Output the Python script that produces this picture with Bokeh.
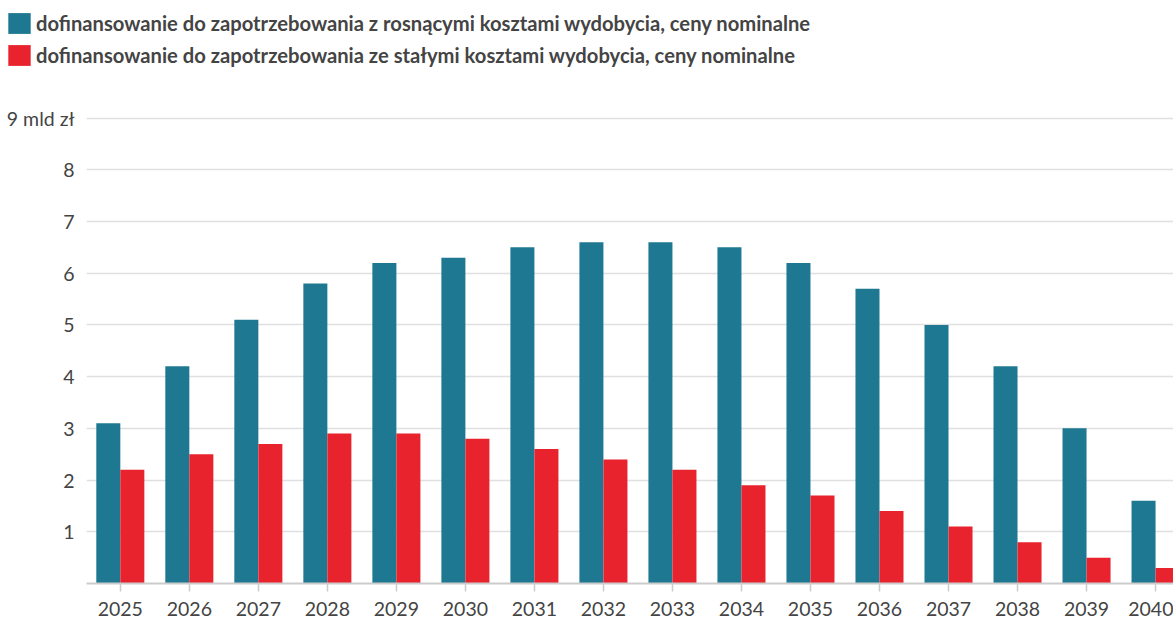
from bokeh.plotting import figure
from bokeh.models import Range1d, FixedTicker, Legend, LegendItem
from bokeh.layouts import column
from bokeh.embed import file_html
from bokeh.resources import INLINE

years = [2025, 2026, 2027, 2028, 2029, 2030, 2031, 2032, 2033, 2034, 2035, 2036, 2037, 2038, 2039, 2040]
rising = [3.1, 4.2, 5.1, 5.8, 6.2, 6.3, 6.5, 6.6, 6.6, 6.5, 6.2, 5.7, 5.0, 4.2, 3.0, 1.6]
fixed = [2.2, 2.5, 2.7, 2.9, 2.9, 2.8, 2.6, 2.4, 2.2, 1.9, 1.7, 1.4, 1.1, 0.8, 0.5, 0.3]
y_ticks = [1, 2, 3, 4, 5, 6, 7, 8, 9]
label_rising = "dofinansowanie do zapotrzebowania z rosnącymi kosztami wydobycia, ceny nominalne"
label_fixed = "dofinansowanie do zapotrzebowania ze stałymi kosztami wydobycia, ceny nominalne"

TEAL = "#1e7891"
RED = "#e8232e"
BW = 0.348

# legend strip
lg = figure(width=1173, height=100, output_backend="svg", toolbar_location=None,
            x_range=Range1d(0, 1), y_range=Range1d(0, 1),
            x_axis_location=None, y_axis_location=None,
            min_border_left=0, min_border_right=0, min_border_top=0, min_border_bottom=0)
lg.frame_align = False
lg.outline_line_color = None
lg.grid.visible = False
# legend swatches only; these sit outside the visible range of the strip
d1 = lg.vbar(x=[5], top=[5], width=0.1, fill_color=TEAL, line_color=None)
d2 = lg.vbar(x=[5], top=[5], width=0.1, fill_color=RED, line_color=None)
legend = Legend(items=[LegendItem(label=label_rising, renderers=[d1]),
                       LegendItem(label=label_fixed, renderers=[d2])],
                location=(5, 32), orientation="vertical",
                glyph_width=28, glyph_height=26, label_height=26, label_standoff=3, spacing=6,
                padding=0, margin=0, border_line_color=None, background_fill_alpha=0,
                label_text_font="Lato", label_text_font_style="bold",
                label_text_font_size="20.2px", label_text_color="#444444")
lg.add_layout(legend, "center")

# main chart
p = figure(width=1173, height=519, output_backend="svg", toolbar_location=None,
           x_range=Range1d(2024.51, 2040.26), y_range=Range1d(0, 9.05),
           min_border_left=86, min_border_right=0, min_border_top=15, min_border_bottom=36)
p.frame_align = False
p.outline_line_color = None
p.background_fill_color = "white"
p.border_fill_color = "white"

p.vbar(x=[y - BW / 2 for y in years], top=rising, width=BW, fill_color=TEAL, line_color=None)
p.vbar(x=[y + BW / 2 for y in years], top=fixed, width=BW, fill_color=RED, line_color=None)

p.xgrid.visible = False
p.ygrid.ticker = FixedTicker(ticks=y_ticks)
p.ygrid.grid_line_color = "#e0e0e0"
p.ygrid.grid_line_width = 1.5

p.yaxis.ticker = FixedTicker(ticks=y_ticks)
p.yaxis.major_label_overrides = {9: "9 mld zł"}
p.yaxis.axis_line_color = None
p.yaxis.major_tick_line_color = None
p.yaxis.minor_tick_line_color = None
p.yaxis.major_label_standoff = 6
p.yaxis.major_label_text_font = "Lato"
p.yaxis.major_label_text_font_size = "19.5px"
p.yaxis.major_label_text_color = "#444444"

p.xaxis.ticker = FixedTicker(ticks=years)
p.xaxis.major_label_overrides = {y: str(y) for y in years}
p.xaxis.axis_line_color = "#cccccc"
p.xaxis.axis_line_width = 2
p.xaxis.major_tick_line_color = "#cccccc"
p.xaxis.major_tick_line_width = 1.5
p.xaxis.major_tick_in = 0
p.xaxis.major_tick_out = 8
p.xaxis.minor_tick_line_color = None
p.xaxis.major_label_standoff = 10
p.xaxis.major_label_text_font = "Lato"
p.xaxis.major_label_text_font_size = "19.5px"
p.xaxis.major_label_text_color = "#444444"

open("out.html", "w").write(file_html(column(lg, p, spacing=0), INLINE))
